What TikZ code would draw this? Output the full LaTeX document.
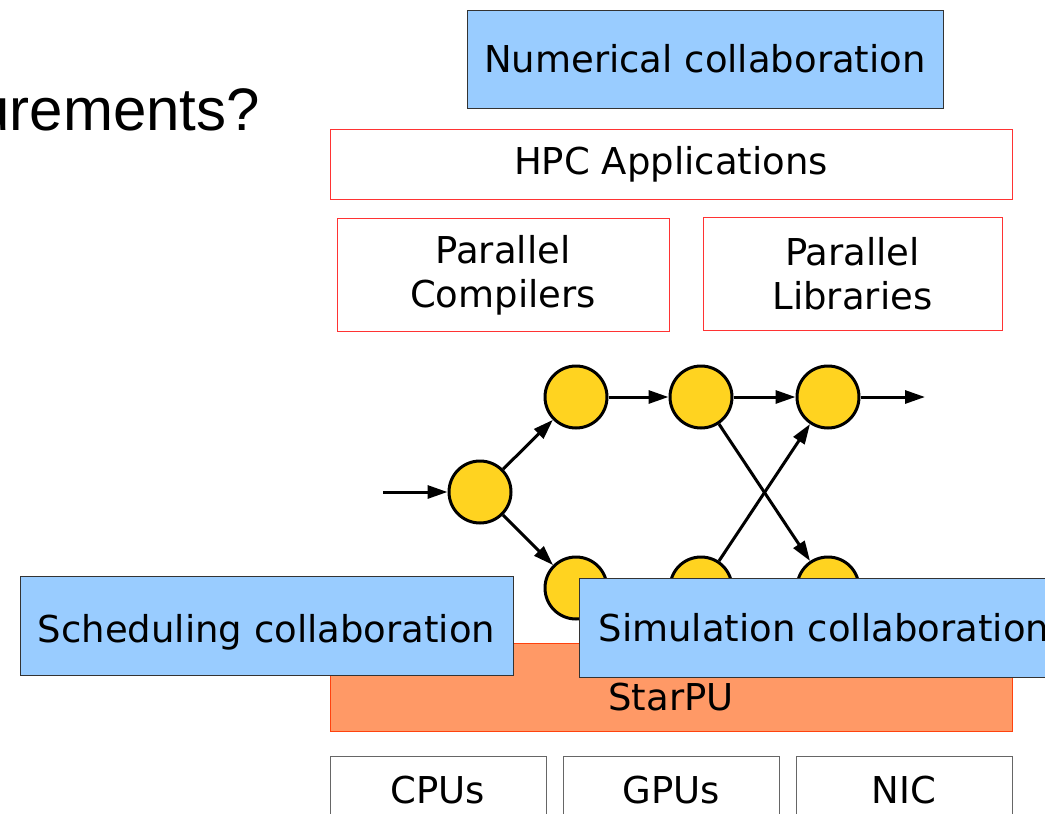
\documentclass[tikz,border=0pt]{standalone}
\usepackage{fontspec}
\setmainfont{DejaVu Sans}
\newfontfamily\arialf{Liberation Sans}
\usetikzlibrary{arrows.meta}
\definecolor{collabblue}{HTML}{99CCFF}
\definecolor{collabedge}{HTML}{333333}
\definecolor{swred}{HTML}{FF3333}
\definecolor{starpufill}{HTML}{FF9966}
\definecolor{starpuedge}{HTML}{FF420E}
\definecolor{taskyellow}{HTML}{FFD320}
\definecolor{hwedge}{HTML}{666666}
\tikzset{
  x=1pt, y=-1pt,
  txt/.style={font=\fontsize{37pt}{44pt}\selectfont, align=center},
  collab/.style={txt, draw=collabedge, line width=1pt, fill=collabblue, inner sep=0pt},
  swbox/.style={txt, draw=swred, line width=1pt, fill=white, inner sep=0pt},
  hwbox/.style={txt, draw=hwedge, line width=1pt, fill=white, inner sep=0pt},
  starpubox/.style={txt, draw=starpuedge, line width=1pt, fill=starpufill, inner sep=0pt},
  task/.style={circle, draw=black, line width=3pt, fill=taskyellow, minimum size=62pt, inner sep=0pt},
  flow/.style={line width=3pt, -{Triangle[length=20pt,width=13pt]}}
}
\begin{document}
\begin{tikzpicture}
\useasboundingbox (0,0) rectangle (1045,814);
% title fragment
\node[font=\arialf\fontsize{60pt}{70pt}\selectfont, anchor=base east, inner sep=0pt] (title) at (260,130) {urements?};
% top boxes
\node[collab, minimum width=476pt, minimum height=98pt] (num) at (705,59) {Numerical collaboration};
\node[swbox, minimum width=682pt, minimum height=70pt] (hpc) at (671,164) {HPC Applications};
\node[swbox, minimum width=332pt, minimum height=113pt] (comp) at (503,275) {Parallel\\Compilers};
\node[swbox, minimum width=299pt, minimum height=113pt] (libs) at (852.5,273.5) {Parallel\\Libraries};
% StarPU
\node[starpubox, minimum width=682pt, minimum height=88pt, label={[txt, inner sep=0pt, yshift=-10pt]center:StarPU}] (starpu) at (671,687) {};
% hardware
\node[hwbox, minimum width=216pt, minimum height=68pt] (cpus) at (438,790) {CPUs};
\node[hwbox, minimum width=216pt, minimum height=68pt] (gpus) at (671,790) {GPUs};
\node[hwbox, minimum width=216pt, minimum height=68pt] (nic) at (904,790) {NIC};
% task graph
\node[task] (mid) at (480,492) {};
\node[task] (tl) at (576,397) {};
\node[task] (tm) at (701,397) {};
\node[task] (tr) at (828,397) {};
\node[task] (bl) at (576,588) {};
\node[task] (bm) at (701,588) {};
\node[task] (br) at (828,588) {};
\coordinate (in) at (383,492);
\coordinate (out) at (925,397);
\draw[flow] (in) -- (mid);
\draw[flow] (mid) -- (tl);
\draw[flow] (mid) -- (bl);
\draw[flow] (tl) -- (tm);
\draw[flow] (tm) -- (tr);
\draw[flow] (tr) -- (out);
\draw[flow] (tm) -- (br);
\draw[flow] (bm) -- (tr);
% collaboration boxes on top
\node[collab, minimum width=493pt, minimum height=99pt] (sched) at (266.5,625.5) {\raisebox{-3pt}[\height][0pt]{Scheduling collaboration}};
\node[collab, anchor=west, text width=482pt, align=left, inner xsep=19pt, minimum height=99pt] (sim) at (579,627.5) {Simulation collaboration};
\end{tikzpicture}
\end{document}
